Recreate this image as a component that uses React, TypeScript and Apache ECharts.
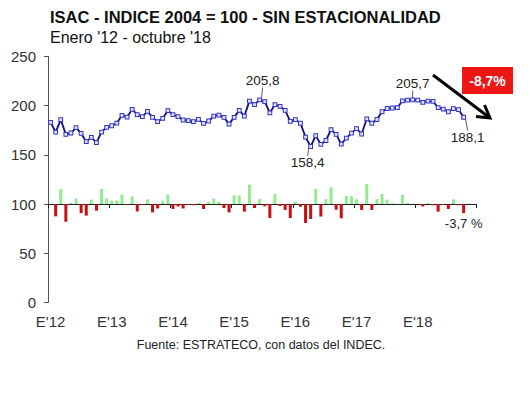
import React, { useEffect, useRef } from "react";
import * as echarts from "echarts";

// ---- data ----
const years: string[] = ["12", "13", "14", "15", "16", "17", "18"];
const yearLabels: string[] = ["E'12", "E'13", "E'14", "E'15", "E'16", "E'17", "E'18"];
const months: string[] = ["01", "02", "03", "04", "05", "06", "07", "08", "09", "10", "11", "12"];

// ISAC desestacionalizado, enero 2012 - octubre 2018 (2004 = 100)
const isac: number[] = [
  182.9, 173.1, 185.6, 170.7, 172.1, 177.5, 171.7, 163.3, 167.7, 162.3, 173.1, 177.8,
  179.5, 182.2, 190.0, 188.3, 196.1, 190.7, 188.7, 194.1, 188.0, 183.6, 187.0, 194.8,
  190.7, 188.7, 185.3, 184.7, 183.6, 186.0, 181.9, 184.3, 189.3, 190.3, 188.0, 181.2,
  188.0, 195.1, 189.3, 204.5, 201.0, 205.8, 204.0, 192.5, 201.0, 199.2, 195.0, 184.0,
  185.6, 182.0, 168.0, 158.4, 169.4, 160.6, 164.5, 175.5, 170.7, 160.8, 167.0, 172.0,
  176.5, 171.1, 186.5, 182.0, 185.8, 193.7, 197.0, 197.5, 197.8, 204.8, 205.4, 205.7,
  205.5, 203.2, 204.5, 204.2, 197.8, 196.4, 193.7, 196.8, 195.8, 188.1,
];

// Variación mensual (%)
const monthlyChange: (number | null)[] = [
  null, -5.0, 6.1, -7.2, 0.4, 2.3, -3.7, -4.7, 1.8, -2.7, 6.1, 2.3,
  1.4, 1.4, 3.8, -0.4, 3.1, -3.0, -0.3, 1.9, -3.4, -1.8, 1.4, 3.8,
  -2.0, -1.0, -1.8, -0.4, -0.5, 0.4, -2.0, 0.9, 2.2, 0.9, -1.6, -3.4,
  3.5, 3.5, -3.1, 7.9, -1.6, 2.0, -0.9, -5.7, 4.1, -0.8, -2.4, -5.7,
  0.9, -1.1, -7.7, -6.1, 6.1, -5.1, 2.0, 6.8, -2.3, -5.8, 3.3, 3.1,
  1.9, -2.4, 8.1, -2.4, 2.0, 4.1, 1.8, 0.3, 0.1, 3.7, 0.5, 0.1,
  -0.1, -1.0, 0.5, -0.5, -3.1, -0.4, -2.0, 1.9, -0.5, -3.7,
];

const yTicks = { min: 0, max: 250, interval: 50 };
const annotatedPoints: number[] = [41, 51, 71, 81];
const annotatedBar = 81;
const peakToLast = "-8,7%";

const categories: string[] = [];
years.forEach((y) => months.forEach((m) => categories.push("20" + y + "-" + m)));

const annStyle: Record<number, { pos: string; dx: number; dy: number }> = {
  41: { pos: "top", dx: 3, dy: -5 },
  51: { pos: "bottom", dx: -3, dy: 2 },
  71: { pos: "top", dx: 0, dy: -2 },
  81: { pos: "bottom", dx: 4, dy: 6 },
};

const fmt = (v: number) => v.toFixed(1).replace(".", ",");
const FONT = "'Liberation Sans', Arial, Helvetica, sans-serif";

export default function App() {
  const ref = useRef<HTMLDivElement>(null);
  useEffect(() => {
    if (!ref.current) return;
    const chart = echarts.init(ref.current, null, { renderer: "svg" });

    const lineData = isac.map((v, i) =>
      annotatedPoints.includes(i)
        ? {
            value: v,
            label: {
              show: true,
              position: annStyle[i].pos,
              formatter: () => fmt(v),
              fontSize: 13.5,
              fontFamily: FONT,
              color: "#222",
            },
          }
        : v
    );

    const barData = monthlyChange.map((v, i) =>
      i === annotatedBar && v !== null
        ? {
            value: v,
            label: {
              show: true,
              position: "bottom",
              distance: 4,
              formatter: () => fmt(v) + " %",
              fontSize: 13,
              fontFamily: FONT,
              color: "#222",
            },
          }
        : v
    );

    chart.setOption({
      animation: false,
      backgroundColor: "#ffffff",
      grid: { left: 48, right: 53.6, top: 56.3, bottom: 96.5, containLabel: false },
      xAxis: [
        {
          type: "category",
          data: categories,
          boundaryGap: true,
          axisLine: { show: false, onZero: false },
          axisTick: { show: false },
          splitLine: { show: false },
          axisLabel: {
            interval: 0,
            margin: 11,
            fontSize: 15,
            fontFamily: FONT,
            color: "#333",
            formatter: (_v: string, idx: number) => (idx % 12 === 0 ? yearLabels[idx / 12] : ""),
          },
        },
        {
          type: "category",
          data: categories,
          position: "bottom",
          boundaryGap: true,
          axisLine: { show: true, onZero: true, onZeroAxisIndex: 1, lineStyle: { color: "#222", width: 1 } },
          axisTick: { show: true, length: 4, interval: (idx: number) => idx % 12 === 0, lineStyle: { color: "#222" } },
          axisLabel: { show: false },
          splitLine: { show: false },
        },
      ],
      yAxis: [
        {
          type: "value",
          min: yTicks.min,
          max: yTicks.max,
          interval: yTicks.interval,
          axisLine: { show: true, lineStyle: { color: "#555", width: 1 } },
          axisTick: { show: true, length: 4, inside: false, lineStyle: { color: "#555" } },
          axisLabel: { margin: 12, fontSize: 15, fontFamily: FONT, color: "#333" },
          splitLine: { show: false },
        },
        { type: "value", min: -40, max: 60, show: false, splitLine: { show: false } },
      ],
      series: [
        {
          type: "bar",
          xAxisIndex: 0,
          yAxisIndex: 1,
          data: barData,
          barWidth: 3,
          z: 2,
          itemStyle: {
            color: (p: any) => {
              const v = typeof p.value === "number" ? p.value : 0;
              return v >= 0 ? "#93ea93" : "#c81010";
            },
          },
        },
        {
          type: "line",
          xAxisIndex: 0,
          yAxisIndex: 0,
          data: lineData,
          symbol: "rect",
          symbolSize: 3.8,
          showAllSymbol: true,
          z: 3,
          lineStyle: { color: "#0c0c82", width: 1.8 },
          itemStyle: { color: "#dfe3ff", borderColor: "#3535c0", borderWidth: 1 },
          label: { show: false },
          labelLine: { show: true, lineStyle: { color: "#333", width: 0.8 } },
          labelLayout: (params: any) => {
            const a = annStyle[params.dataIndex];
            return a ? { dx: a.dx, dy: a.dy } : {};
          },
        },
      ],
      graphic: [
        {
          type: "text",
          x: 50,
          y: 17,
          style: {
            text: "ISAC - INDICE 2004 = 100 - SIN ESTACIONALIDAD",
            fontSize: 16.5,
            fontWeight: "bold",
            fontFamily: FONT,
            fill: "#111",
            align: "left",
            verticalAlign: "middle",
          },
        },
        {
          type: "text",
          x: 50,
          y: 37,
          style: {
            text: "Enero '12 - octubre '18",
            fontSize: 16,
            fontFamily: FONT,
            fill: "#111",
            align: "left",
            verticalAlign: "middle",
          },
        },
        {
          type: "text",
          x: 261,
          y: 345,
          style: {
            text: "Fuente: ESTRATECO, con datos del INDEC.",
            fontSize: 12.5,
            fontFamily: FONT,
            fill: "#222",
            align: "center",
            verticalAlign: "middle",
          },
        },
        {
          type: "rect",
          shape: { x: 462, y: 67, width: 51, height: 27 },
          style: { fill: "#ee1515" },
        },
        {
          type: "text",
          x: 487.5,
          y: 80.5,
          style: {
            text: peakToLast,
            fontSize: 14,
            fontWeight: "bold",
            fontFamily: FONT,
            fill: "#ffffff",
            align: "center",
            verticalAlign: "middle",
          },
        },
        {
          type: "line",
          shape: { x1: 433, y1: 75, x2: 488, y2: 116.5 },
          style: { stroke: "#000", lineWidth: 3 },
        },
        {
          type: "polyline",
          shape: { points: [[476, 116.5], [490, 118], [484.5, 105]] },
          style: { stroke: "#000", lineWidth: 3, fill: null },
        },
      ],
    });

    return () => chart.dispose();
  }, []);

  return (
    <div
      ref={ref}
      style={{ position: "absolute", left: 0, top: 0, width: 530, height: 399, background: "#fff" }}
    />
  );
}
